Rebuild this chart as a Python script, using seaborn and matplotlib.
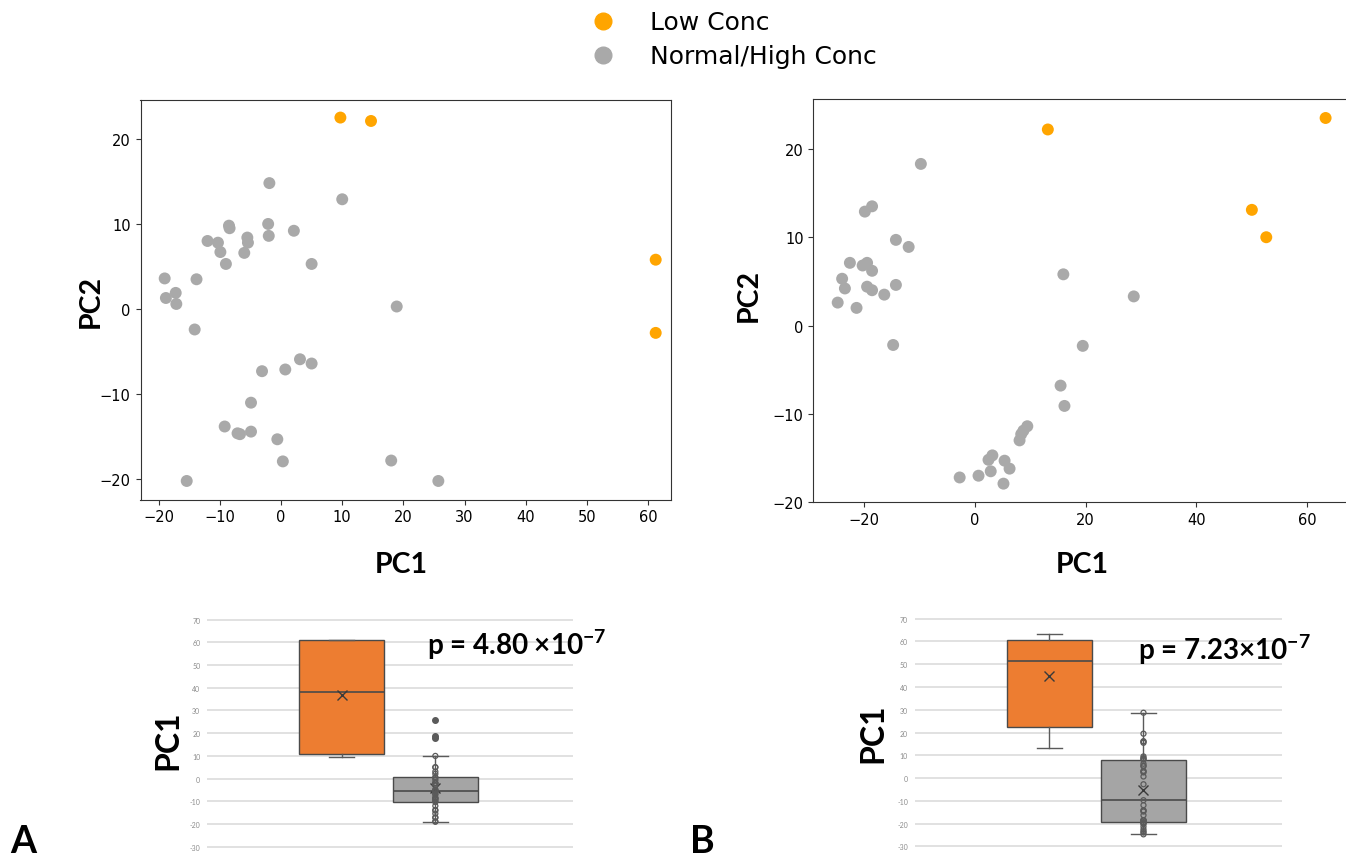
import numpy as np
import pandas as pd
import matplotlib
matplotlib.use("Agg")
import matplotlib.pyplot as plt
from matplotlib.lines import Line2D
from matplotlib.ticker import MultipleLocator
import seaborn as sns

W, H = 1346, 862

# groups and colours
group_names = ["Low Conc", "Normal/High Conc"]
scatter_colors = ["#ffa500", "#a9a9a9"]
box_colors = ["#ed7d31", "#a5a5a5"]

# panel A - PCA scores
a_low_pc1 = [9.7, 14.7, 61.2, 61.2]
a_low_pc2 = [22.5, 22.1, 5.8, -2.8]
a_norm_pc1 = [-1.9, 10.0, -8.5, -8.4, -2.1, -2.0, 2.1, -12.0, -10.3, -5.5,
              -5.4, -9.9, -6.0, -9.0, 5.0, -19.0, -13.8, -17.2, -18.8, -17.1,
              18.9, -14.1, 3.1, 5.0, -3.1, 0.7, -4.9, -9.2, -7.1, -6.7,
              -4.9, -0.6, 0.3, 18.0, -15.4, 25.7]
a_norm_pc2 = [14.8, 12.9, 9.8, 9.5, 10.0, 8.6, 9.2, 8.0, 7.8, 8.4,
              7.8, 6.7, 6.6, 5.3, 5.3, 3.6, 3.5, 1.9, 1.3, 0.6,
              0.3, -2.4, -5.9, -6.4, -7.3, -7.1, -11.0, -13.8, -14.6, -14.7,
              -14.4, -15.3, -17.9, -17.8, -20.2, -20.2]

# panel B - PCA scores
b_low_pc1 = [13.2, 63.3, 50.0, 52.6]
b_low_pc2 = [22.2, 23.5, 13.1, 10.0]
b_norm_pc1 = [-9.7, -19.8, -18.5, -14.2, -11.9, -22.5, -20.2, -19.4, -18.5, -23.9,
              -23.4, -19.4, -18.5, -16.3, -14.2, -24.7, -21.3, -14.7, 16.0, 28.7,
              19.5, 15.5, 16.2, 9.5, 8.8, 8.4, 8.1, 3.2, 2.5, 2.9,
              5.4, 6.3, 5.2, 0.7, -2.7]
b_norm_pc2 = [18.3, 12.9, 13.5, 9.7, 8.9, 7.1, 6.8, 7.1, 6.2, 5.3,
              4.2, 4.4, 4.0, 3.5, 4.6, 2.6, 2.0, -2.2, 5.8, 3.3,
              -2.3, -6.8, -9.1, -11.4, -11.9, -12.3, -13.0, -14.7, -15.2, -16.5,
              -15.3, -16.2, -17.9, -17.0, -17.2]

p_texts = ["p = 4.80 ×10$^{-7}$", "p = 7.23×10$^{-7}$"]
box_ticks = [-30, -20, -10, 0, 10, 20, 30, 40, 50, 60, 70]

plt.rcParams["mathtext.fontset"] = "custom"
plt.rcParams["mathtext.rm"] = "Lato:bold"
plt.rcParams["mathtext.default"] = "rm"

fig = plt.figure(figsize=(W / 100, H / 100), dpi=100)


def rect(l, t, r, b):
    # pixel box -> figure fraction
    return [l / W, 1 - b / H, (r - l) / W, (b - t) / H]


def fx(x):
    return x / W


def fy(y):
    return 1 - y / H


def make_frame(low_x, low_y, norm_x, norm_y):
    return pd.DataFrame({
        "PC1": list(norm_x) + list(low_x),
        "PC2": list(norm_y) + list(low_y),
        "group": [group_names[1]] * len(norm_x) + [group_names[0]] * len(low_x),
    })


def scatter_panel(ax, df, xstep):
    sns.scatterplot(data=df, x="PC1", y="PC2", hue="group",
                    palette=dict(zip(group_names, scatter_colors)),
                    s=74, linewidth=0, legend=False, ax=ax)
    ax.xaxis.set_major_locator(MultipleLocator(xstep))
    ax.yaxis.set_major_locator(MultipleLocator(10))
    ax.tick_params(labelsize=10.5, color="#333333")
    for s in ax.spines.values():
        s.set_color("#333333")
    ax.set_xlabel("")
    ax.set_ylabel("")


def excel_box_stats(vals, label):
    # quartiles the way Excel's box & whisker chart does it (exclusive)
    v = np.sort(np.asarray(vals, dtype=float))
    q1, med, q3 = np.percentile(v, [25, 50, 75], method="weibull")
    iqr = q3 - q1
    lo = v[v >= q1 - 1.5 * iqr].min()
    hi = v[v <= q3 + 1.5 * iqr].max()
    return dict(label=label, q1=q1, med=med, q3=q3, whislo=lo, whishi=hi,
                mean=v.mean(), fliers=v[(v < lo) | (v > hi)])


def box_panel(ax, low_vals, norm_vals):
    stats = [excel_box_stats(low_vals, group_names[0]),
             excel_box_stats(norm_vals, group_names[1])]
    edge = "#4a4a4a"
    bp = ax.bxp(stats, positions=[0, 1], widths=0.9, capwidths=0.26,
                patch_artist=True, showmeans=True, showfliers=True,
                boxprops=dict(edgecolor=edge, linewidth=1.0),
                medianprops=dict(color=edge, linewidth=1.2),
                whiskerprops=dict(color="#5a5a5a", linewidth=1.0),
                capprops=dict(color="#5a5a5a", linewidth=1.0),
                meanprops=dict(marker="x", markeredgecolor="#3a3a3a",
                               markersize=7, markeredgewidth=1.0),
                flierprops=dict(marker="o", markerfacecolor="#5a5a5a",
                                markeredgecolor="#5a5a5a", markersize=4))
    for patch, c in zip(bp["boxes"], box_colors):
        patch.set_facecolor(c)
    # inner points of the grey series
    st = stats[1]
    v = np.asarray(norm_vals)
    inner = v[(v >= st["whislo"]) & (v <= st["whishi"])]
    ax.scatter(np.ones(len(inner)), inner, s=13, facecolors="none",
               edgecolors="#5a5a5a", linewidths=0.9, zorder=3)
    ax.set_ylim(-31, 71)
    ax.set_xlim(-1.43, 2.47)
    ax.set_yticks(box_ticks)
    ax.set_yticklabels([f"{t:g}" for t in box_ticks], fontsize=5,
                       color="#8c8c8c", family="Lato")
    ax.set_xticks([])
    ax.tick_params(axis="y", length=0, pad=5)
    ax.grid(axis="y", color="#d9d9d9", linewidth=1.1)
    ax.set_axisbelow(True)
    for s in ax.spines.values():
        s.set_visible(False)


# ---- scatter A
axA = fig.add_axes(rect(140.5, 100.7, 671, 500.7))
scatter_panel(axA, make_frame(a_low_pc1, a_low_pc2, a_norm_pc1, a_norm_pc2), 10)
axA.set_xlim(-22.95, 63.7)
axA.set_ylim(-22.4, 24.6)

# ---- scatter B (runs off the right edge like the original)
axB = fig.add_axes(rect(813.3, 100, 1350, 503.2))
scatter_panel(axB, make_frame(b_low_pc1, b_low_pc2, b_norm_pc1, b_norm_pc2), 20)
axB.set_xlim(-29.1, 67.7)
axB.set_ylim(-20.0, 25.65)

lab = dict(family="Lato", fontweight="bold", fontsize=20.5)
fig.text(fx(401), fy(573), "PC1", ha="center", va="baseline", **lab)
fig.text(fx(91), fy(301), "PC2", ha="center", va="center", rotation=90, **lab)
fig.text(fx(1082), fy(573), "PC1", ha="center", va="baseline", **lab)
fig.text(fx(749), fy(296), "PC2", ha="center", va="center", rotation=90, **lab)

# ---- box plots
bxA = fig.add_axes(rect(207.3, 618.4, 573.3, 850))
box_panel(bxA, a_low_pc1, a_norm_pc1)
bxB = fig.add_axes(rect(915, 617.4, 1281.7, 849.7))
box_panel(bxB, b_low_pc1, b_norm_pc1)

fig.text(fx(168), fy(740), "PC1", ha="center", va="center", rotation=90,
         family="Lato", fontweight="bold", fontsize=23)
fig.text(fx(872.5), fy(733), "PC1", ha="center", va="center", rotation=90,
         family="Lato", fontweight="bold", fontsize=23)
fig.text(fx(427), fy(655), p_texts[0], ha="left", va="baseline",
         family="Lato", fontweight="bold", fontsize=20)
fig.text(fx(1138), fy(660), p_texts[1], ha="left", va="baseline",
         family="Lato", fontweight="bold", fontsize=20)

# panel letters
fig.text(fx(10), fy(853), "A", ha="left", va="baseline",
         family="Lato", fontweight="bold", fontsize=27)
fig.text(fx(690), fy(853), "B", ha="left", va="baseline",
         family="Lato", fontweight="bold", fontsize=27)

# ---- legend on top
handles = [Line2D([], [], marker="o", linestyle="", markersize=12,
                  markerfacecolor=c, markeredgecolor=c) for c in scatter_colors]
fig.legend(handles, group_names, loc="upper left",
           bbox_to_anchor=(fx(578), fy(11.5)), frameon=False, fontsize=18,
           handlelength=2, handletextpad=0.9, labelspacing=0.39, borderpad=0,
           borderaxespad=0)

fig.savefig("out.png", dpi=100)
